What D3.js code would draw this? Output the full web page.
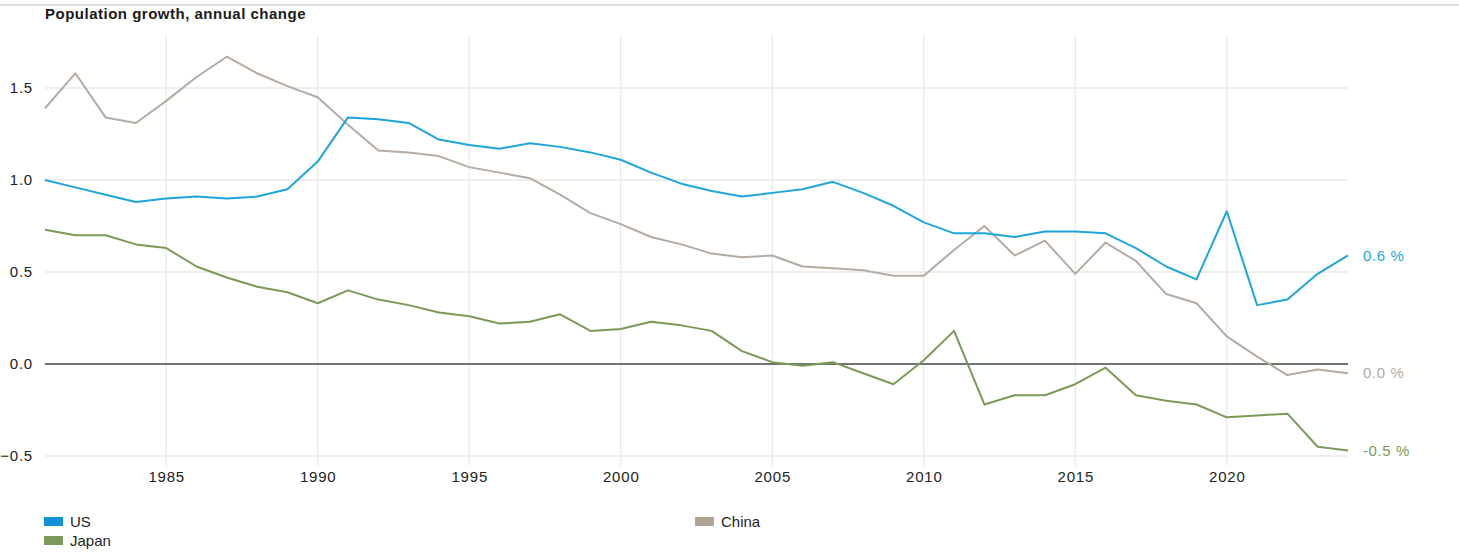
<!DOCTYPE html>
<html><head><meta charset="utf-8">
<script src="https://cdn.jsdelivr.net/npm/d3@7"></script>
<style>
html,body{margin:0;padding:0;background:#fff;}
svg{display:block;font-family:"Liberation Sans",Arial,sans-serif;}
</style></head>
<body>
<svg id="chart" width="1459" height="559"></svg>
<script>
const years = d3.range(1981, 2025);
const usValues = [1.00,0.96,0.92,0.88,0.90,0.91,0.90,0.91,0.95,1.10,1.34,1.33,1.31,1.22,1.19,1.17,1.20,1.18,1.15,1.11,1.04,0.98,0.94,0.91,0.93,0.95,0.99,0.93,0.86,0.77,0.71,0.71,0.69,0.72,0.72,0.71,0.63,0.53,0.46,0.83,0.32,0.35,0.49,0.59];
const chinaValues = [1.39,1.58,1.34,1.31,1.43,1.56,1.67,1.58,1.51,1.45,1.30,1.16,1.15,1.13,1.07,1.04,1.01,0.92,0.82,0.76,0.69,0.65,0.60,0.58,0.59,0.53,0.52,0.51,0.48,0.48,0.62,0.75,0.59,0.67,0.49,0.66,0.56,0.38,0.33,0.15,0.04,-0.06,-0.03,-0.05];
const japanValues = [0.73,0.70,0.70,0.65,0.63,0.53,0.47,0.42,0.39,0.33,0.40,0.35,0.32,0.28,0.26,0.22,0.23,0.27,0.18,0.19,0.23,0.21,0.18,0.07,0.01,-0.01,0.01,-0.05,-0.11,0.02,0.18,-0.22,-0.17,-0.17,-0.11,-0.02,-0.17,-0.20,-0.22,-0.29,-0.28,-0.27,-0.45,-0.47];
const seriesNames = ["US","China","Japan"];
const endLabels = ["0.6 %","0.0 %","-0.5 %"];
const yTicks = [-0.5,0.0,0.5,1.0,1.5];
const xTicks = [1985,1990,1995,2000,2005,2010,2015,2020];
const titleText = "Population growth, annual change";

(function(){
const colors = {US:"#1ea6db", China:"#b5aba2", Japan:"#7b9a57"};
const legendColors = {US:"#1192d6", China:"#b0a497", Japan:"#7a9a5a"};
const labelColors = {US:"#1ea6db", China:"#b5aba2", Japan:"#7b9a57"};

const series = [
  {name:seriesNames[0], values: usValues, label: endLabels[0]},
  {name:seriesNames[1], values: chinaValues, label: endLabels[1]},
  {name:seriesNames[2], values: japanValues, label: endLabels[2]}
];

const svg = d3.select("#chart");
const pLeft = 45, pRight = 1348, pTop = 35, pBottom = 466;

const x = d3.scaleLinear().domain([1981, 2024]).range([pLeft, pRight]);
const y = d3.scaleLinear().domain([0, 1]).range([364, 180]);

svg.append("rect").attr("x",0).attr("y",4).attr("width",1459).attr("height",2).attr("fill","#dcdcdc");

svg.append("text").attr("x",45).attr("y",19).attr("font-size",15).attr("font-weight","bold")
  .attr("letter-spacing",0.5).attr("fill","#1a1a1a").text(titleText);

svg.append("g").selectAll("line").data(xTicks).join("line")
  .attr("x1",d=>x(d)).attr("x2",d=>x(d)).attr("y1",pTop).attr("y2",pBottom)
  .attr("stroke","#e4e4e4").attr("stroke-width",1);

svg.append("g").selectAll("line").data(yTicks.filter(d=>d!==0)).join("line")
  .attr("x1",pLeft).attr("x2",pRight).attr("y1",d=>y(d)).attr("y2",d=>y(d))
  .attr("stroke","#e8e8e8").attr("stroke-width",1.5);

const yAxis = d3.axisLeft(y).tickValues(yTicks).tickFormat(d3.format(".1f")).tickSize(0).tickPadding(0);
const ya = svg.append("g").attr("transform","translate(33,0)").call(yAxis);
ya.select(".domain").remove();
ya.selectAll("text").attr("font-size",15).attr("letter-spacing",0.8).attr("fill","#222").attr("font-family","Liberation Sans, Arial, sans-serif");

const xAxis = d3.axisBottom(x).tickValues(xTicks).tickFormat(d3.format("d")).tickSize(0).tickPadding(0);
const xa = svg.append("g").attr("transform","translate(0,471)").call(xAxis);
xa.select(".domain").remove();
xa.selectAll("text").attr("font-size",15).attr("letter-spacing",0.8).attr("fill","#222").attr("font-family","Liberation Sans, Arial, sans-serif");

svg.append("line").attr("x1",pLeft).attr("x2",pRight).attr("y1",y(0)).attr("y2",y(0))
  .attr("stroke","#444").attr("stroke-width",1.6);

const line = d3.line().x((d,i)=>x(years[i])).y(d=>y(d));

["China","Japan","US"].forEach(n=>{
  const s = series.find(s=>s.name===n);
  svg.append("path").datum(s.values).attr("d",line)
    .attr("fill","none").attr("stroke",colors[n]).attr("stroke-width",2)
    .attr("stroke-linejoin","round");
});

series.forEach(s=>{
  svg.append("text").attr("x",1363).attr("y",y(s.values[s.values.length-1]))
    .attr("dy","0.35em").attr("font-size",15).attr("letter-spacing",0.6).attr("fill",labelColors[s.name]).text(s.label);
});

const legendItems = [
  {name:"US", x:44, y:517},
  {name:"Japan", x:44, y:536},
  {name:"China", x:695, y:517}
];
const lg = svg.append("g");
legendItems.forEach(it=>{
  lg.append("rect").attr("x",it.x).attr("y",it.y).attr("width",19).attr("height",9).attr("fill",legendColors[it.name]);
  lg.append("text").attr("x",it.x+26).attr("y",it.y+5).attr("dy","0.35em").attr("font-size",15).attr("fill","#222").text(it.name);
});
})();
</script>
</body></html>
